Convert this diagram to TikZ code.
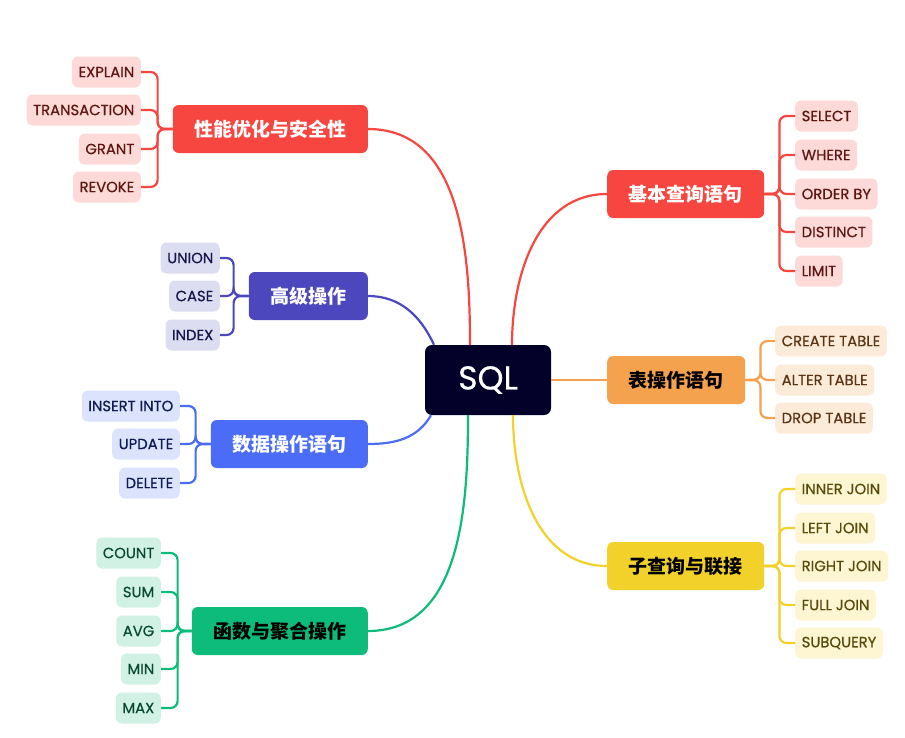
\documentclass[tikz,border=0pt]{standalone}
\usepackage{fontspec}
\setmainfont{Poppins}
\newfontfamily\cjk{Noto Sans CJK SC}
\newfontfamily\leaffont{Poppins}[FakeBold=0.6]
\usepackage{tikz}
\usetikzlibrary{calc}
\definecolor{navy}{HTML}{03002A}
\definecolor{redmain}{HTML}{F7463F}
\definecolor{redlight}{HTML}{FDDAD8}
\definecolor{reddark}{HTML}{5E1612}
\definecolor{orgmain}{HTML}{F5A24E}
\definecolor{orglight}{HTML}{FDEBDA}
\definecolor{orgdark}{HTML}{5B3413}
\definecolor{yelmain}{HTML}{F2D12A}
\definecolor{yellight}{HTML}{FEF5D2}
\definecolor{yeldark}{HTML}{574A0B}
\definecolor{indmain}{HTML}{4C47BC}
\definecolor{indlight}{HTML}{DDDDF1}
\definecolor{inddark}{HTML}{16164A}
\definecolor{blumain}{HTML}{4A6CF6}
\definecolor{blulight}{HTML}{DCE3FC}
\definecolor{bludark}{HTML}{0E1B54}
\definecolor{grnmain}{HTML}{0DBC7B}
\definecolor{grnlight}{HTML}{D0F1E4}
\definecolor{grndark}{HTML}{0A4A33}
\tikzset{
    root/.style={
        fill=navy,
        text=white,
        rounded corners=7pt,
        minimum width=126pt,
        minimum height=70pt,
        font=\leaffont\fontsize{33}{36}\selectfont
    },
    topic/.style={
        rounded corners=6pt,
        minimum height=48pt,
        inner xsep=21.5pt,
        font=\cjk\bfseries\fontsize{19}{22}\selectfont
    },
    leaf/.style={
        rounded corners=6pt,
        minimum height=31pt,
        inner xsep=6.5pt,
        font=\leaffont\fontsize{14.8}{16}\selectfont
    },
    link/.style={line width=2.2pt, rounded corners=7pt}
}

\begin{document}
\begin{tikzpicture}[x=1pt, y=-1pt]
    \useasboundingbox (0,0) rectangle (905,737);
    % Root
    \node[root] (sql) at (488,380) {SQL};

    % Topics - right
    \node[topic, fill=redmain, text=white, anchor=west] (basic) at (607,194) {基本查询语句};
    \node[topic, fill=orgmain, text=black, anchor=west] (table) at (607,380) {表操作语句};
    \node[topic, fill=yelmain, text=black, anchor=west] (join) at (607,566) {子查询与联接};
    % Topics - left
    \node[topic, fill=redmain, text=white, anchor=east] (perf) at (368,129) {性能优化与安全性};
    \node[topic, fill=indmain, text=white, anchor=east] (adv) at (368,296) {高级操作};
    \node[topic, fill=blumain, text=white, anchor=east] (dml) at (368,444) {数据操作语句};
    \node[topic, fill=grnmain, text=black, anchor=east] (agg) at (368,631) {函数与聚合操作};

    % Leaves - basic
    \node[leaf, fill=redlight, text=reddark, anchor=west] (select) at (795,116) {SELECT};
    \node[leaf, fill=redlight, text=reddark, anchor=west] (where) at (795,155) {WHERE};
    \node[leaf, fill=redlight, text=reddark, anchor=west] (order) at (795,194) {ORDER BY};
    \node[leaf, fill=redlight, text=reddark, anchor=west] (distinct) at (795,232) {DISTINCT};
    \node[leaf, fill=redlight, text=reddark, anchor=west] (limit) at (795,271) {LIMIT};
    % Leaves - table
    \node[leaf, fill=orglight, text=orgdark, anchor=west] (create) at (775,341) {CREATE TABLE};
    \node[leaf, fill=orglight, text=orgdark, anchor=west] (alter) at (775,380) {ALTER TABLE};
    \node[leaf, fill=orglight, text=orgdark, anchor=west] (drop) at (775,418) {DROP TABLE};
    % Leaves - join
    \node[leaf, fill=yellight, text=yeldark, anchor=west] (inner) at (795,489) {INNER JOIN};
    \node[leaf, fill=yellight, text=yeldark, anchor=west] (left) at (795,528) {LEFT JOIN};
    \node[leaf, fill=yellight, text=yeldark, anchor=west] (right) at (795,566) {RIGHT JOIN};
    \node[leaf, fill=yellight, text=yeldark, anchor=west] (full) at (795,605) {FULL JOIN};
    \node[leaf, fill=yellight, text=yeldark, anchor=west] (subq) at (795,643) {SUBQUERY};
    % Leaves - perf
    \node[leaf, fill=redlight, text=reddark, anchor=east] (explain) at (141,72) {EXPLAIN};
    \node[leaf, fill=redlight, text=reddark, anchor=east] (trans) at (141,110) {TRANSACTION};
    \node[leaf, fill=redlight, text=reddark, anchor=east] (grant) at (141,149) {GRANT};
    \node[leaf, fill=redlight, text=reddark, anchor=east] (revoke) at (141,187) {REVOKE};
    % Leaves - adv
    \node[leaf, fill=indlight, text=inddark, anchor=east] (union) at (220,258) {UNION};
    \node[leaf, fill=indlight, text=inddark, anchor=east] (case) at (220,296) {CASE};
    \node[leaf, fill=indlight, text=inddark, anchor=east] (index) at (220,335) {INDEX};
    % Leaves - dml
    \node[leaf, fill=blulight, text=bludark, anchor=east] (insert) at (180,406) {INSERT INTO};
    \node[leaf, fill=blulight, text=bludark, anchor=east] (update) at (180,444) {UPDATE};
    \node[leaf, fill=blulight, text=bludark, anchor=east] (delete) at (180,483) {DELETE};
    % Leaves - agg
    \node[leaf, fill=grnlight, text=grndark, anchor=east] (count) at (161,553) {COUNT};
    \node[leaf, fill=grnlight, text=grndark, anchor=east] (sum) at (161,592) {SUM};
    \node[leaf, fill=grnlight, text=grndark, anchor=east] (avg) at (161,631) {AVG};
    \node[leaf, fill=grnlight, text=grndark, anchor=east] (min) at (161,669) {MIN};
    \node[leaf, fill=grnlight, text=grndark, anchor=east] (max) at (161,708) {MAX};

    % Root to topics
    \draw[link, redmain] ([xshift=24pt]sql.north) to[out=90, in=180] (basic.west);
    \draw[link, orgmain] (sql.east) -- (table.west);
    \draw[link, yelmain] ([xshift=25pt]sql.south) to[out=270, in=180] (join.west);
    \draw[link, redmain] ([xshift=-18pt]sql.north) to[out=90, in=0] (perf.east);
    \draw[link, indmain] ([xshift=-54pt]sql.north) to[out=115, in=0] (adv.east);
    \draw[link, blumain] ([xshift=-57pt]sql.south) to[out=240, in=0] (dml.east);
    \draw[link, grnmain] ([xshift=-20pt]sql.south) to[out=270, in=0] (agg.east);

    % Topics to leaves
    \foreach \lf in {select, where, order, distinct, limit}
        \draw[link, redmain] (basic.east) -- ++(15,0) |- (\lf.west);
    \foreach \lf in {create, alter, drop}
        \draw[link, orgmain] (table.east) -- ++(15,0) |- (\lf.west);
    \foreach \lf in {inner, left, right, full, subq}
        \draw[link, yelmain] (join.east) -- ++(15,0) |- (\lf.west);
    \foreach \lf in {explain, trans, grant, revoke}
        \draw[link, redmain] (perf.west) -- ++(-15,0) |- (\lf.east);
    \foreach \lf in {union, case, index}
        \draw[link, indmain] (adv.west) -- ++(-15,0) |- (\lf.east);
    \foreach \lf in {insert, update, delete}
        \draw[link, blumain] (dml.west) -- ++(-15,0) |- (\lf.east);
    \foreach \lf in {count, sum, avg, min, max}
        \draw[link, grnmain] (agg.west) -- ++(-14,0) |- (\lf.east);
\end{tikzpicture}
\end{document}
